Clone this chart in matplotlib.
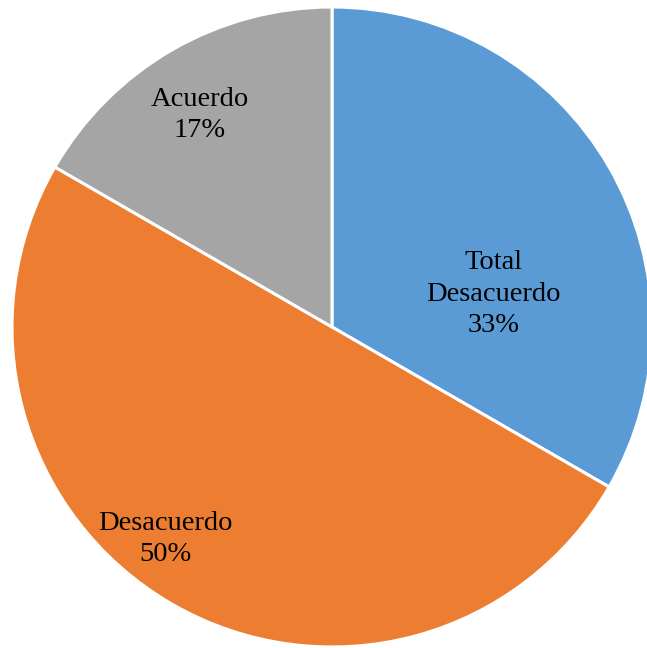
import matplotlib
matplotlib.use("Agg")
import matplotlib.pyplot as plt

# Data (shares: 1/3, 1/2, 1/6)
labels = ["Total\nDesacuerdo", "Desacuerdo", "Acuerdo"]
values = [2, 3, 1]
colors = ["#5B9BD5", "#ED7D31", "#A5A5A5"]

# label positions (data coords, radius 1 pie)
label_pos = [(0.505, 0.103), (-0.522, -0.662), (-0.4125, 0.662)]

fig = plt.figure(figsize=(6.47, 6.48), dpi=100)
ax = fig.add_axes([0, 0, 1, 1])

wedges, _ = ax.pie(values, colors=colors, startangle=90, counterclock=False,
                   radius=1.0, wedgeprops=dict(edgecolor="white", linewidth=2.2))

total = sum(values)
for (x, y), lab, v in zip(label_pos, labels, values):
    pct = round(100 * v / total)
    ax.text(x, y, f"{lab}\n{pct}%", ha="center", va="center", fontsize=20.5,
            family="Liberation Serif", linespacing=1.32, color="black")

ax.set_aspect("equal")
ax.set_xlim(-332 / 320, (647 - 332) / 320)
ax.set_ylim(-(648 - 327) / 320, 327 / 320)
ax.axis("off")

fig.savefig("out.png", dpi=100)
